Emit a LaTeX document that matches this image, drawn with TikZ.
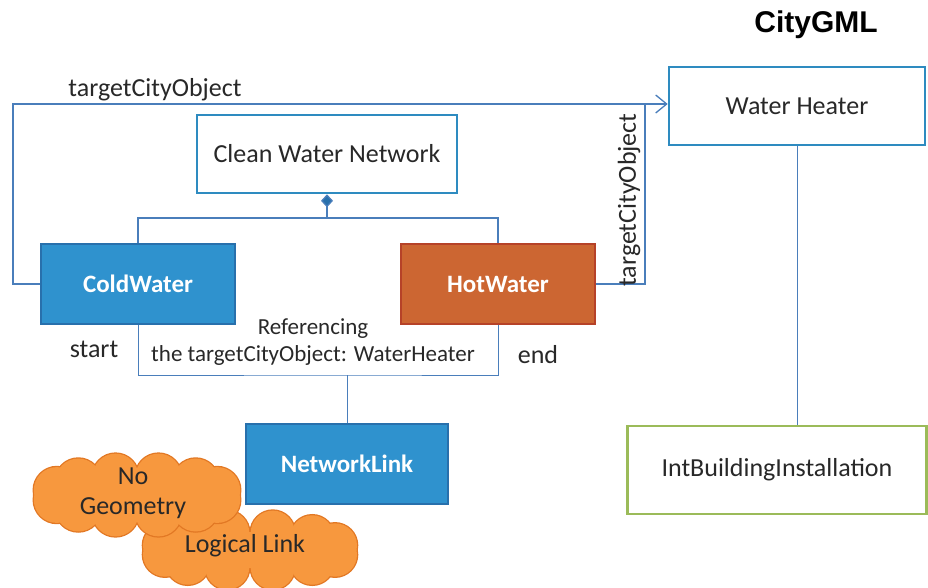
\documentclass[tikz,border=0pt]{standalone}
\usepackage{fontspec}
\setmainfont{Carlito}
\newfontfamily\arialfont{Liberation Sans}
\usetikzlibrary{arrows.meta,calc}
\definecolor{conn}{RGB}{74,126,187}
\definecolor{boxline}{RGB}{46,139,192}
\definecolor{bluefill}{RGB}{47,146,206}
\definecolor{blueline}{RGB}{40,112,172}
\definecolor{hotfill}{RGB}{204,102,50}
\definecolor{hotline}{RGB}{182,66,40}
\definecolor{greenline}{RGB}{155,187,89}
\definecolor{cloudfill}{RGB}{247,152,62}
\definecolor{cloudline}{RGB}{226,120,36}
\definecolor{txt}{RGB}{40,40,40}
% cloud: {cx}{cy}{rx}{ry}{r}
\newcommand\drawpuffcloud[5]{%
  \foreach \ang in {15,45,...,345}
    \draw[cloudline,line width=2.6pt] ($(#1,#2)+(\ang:#3 and #4)$) circle (#5);
  \fill[cloudfill] (#1,#2) ellipse (#3 and #4);
  \foreach \ang in {15,45,...,345}
    \fill[cloudfill] ($(#1,#2)+(\ang:#3 and #4)$) circle (#5);
}
\begin{document}
\begin{tikzpicture}[x=1pt,y=-1pt,
  whitebox/.style={draw=boxline,line width=2.6pt,fill=white,inner sep=0pt,text=txt,font=\fontsize{26}{30}\selectfont},
  colbox/.style={line width=2.2pt,inner sep=0pt,text=white,font=\bfseries\fontsize{25}{29}\selectfont,minimum width=194pt,minimum height=80pt},
  connector/.style={draw=conn,line width=1.3pt},
  lbl/.style={text=txt,inner sep=0pt,font=\fontsize{26}{30}\selectfont},
  cloudtext/.style={text=txt,inner sep=0pt,align=center,font=\fontsize{26}{30}\selectfont}]
\useasboundingbox (0,0) rectangle (928,587);
% title
\node[inner sep=0pt,font=\arialfont\bfseries\fontsize{30}{34}\selectfont] (title) at (816,25) {CityGML};
% boxes
\node[whitebox,minimum width=256pt,minimum height=78pt] (heater) at (797,106) {Water Heater};
\node[whitebox,minimum width=260pt,minimum height=78pt] (cwn) at (327,154) {Clean Water Network};
\node[colbox,fill=bluefill,draw=blueline] (cold) at (138,284) {ColdWater};
\node[colbox,fill=hotfill,draw=hotline] (hot) at (498,284) {HotWater};
\node[colbox,fill=bluefill,draw=blueline,minimum width=202pt] (link) at (347,464) {NetworkLink};
\node[whitebox,draw=greenline,minimum width=299pt,minimum height=88pt] (inst) at (777,470) {IntBuildingInstallation};
% aggregation
\coordinate (bus) at (327,218);
\draw[connector] (cold.north) |- (bus) -| (hot.north);
\draw[connector,-{Diamond[length=13pt,width=12pt,fill=blueline]}] (bus) -- (cwn.south);
% targetCityObject links
\coordinate (join) at (645,104);
\draw[connector,-{Straight Barb[length=11pt,width=18pt,line width=1.3pt]}] (cold.west) -- ++(-27,0) |- (heater.west |- join);
\draw[connector] (hot.east) -| (join);
\node[lbl] (t1) at (155,90) {targetCityObject};
\node[lbl,rotate=90] (t2) at (629,200) {targetCityObject};
% referencing
\coordinate (ref) at (347,375);
\draw[connector,line width=1pt] (cold.south) |- (ref) -| (hot.south);
\draw[connector,line width=1pt] (ref) -- (link.north);
\node[lbl,align=center,font=\fontsize{23}{27}\selectfont] (reftxt) at (313,342) {Referencing\\the targetCityObject: WaterHeater};
\node[lbl] (start) at (94,349) {start};
\node[lbl] (end) at (538,355) {end};
% heater to installation
\draw[connector,line width=1pt] (heater.south) -- (heater.south |- inst.north);
% clouds
\drawpuffcloud{250}{550}{88}{18}{22}
\drawpuffcloud{137}{495}{83}{19}{23}
\node[cloudtext] (c1) at (133,493) {No\\Geometry};
\node[cloudtext] (c2) at (245,546) {Logical Link};
\end{tikzpicture}
\end{document}
